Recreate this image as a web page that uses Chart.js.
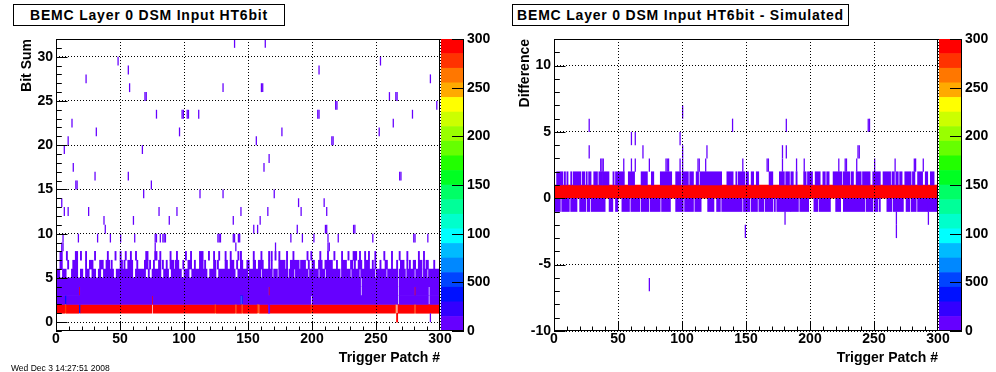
<!DOCTYPE html>
<html>
<head>
<meta charset="utf-8">
<script src="https://cdn.jsdelivr.net/npm/chart.js@4.4.1/dist/chart.umd.min.js"></script>
<style>
    body { margin: 0; background: #fff; width: 996px; height: 372px; overflow: hidden; position: relative; font-family: "Liberation Sans", Arial, sans-serif; }
    canvas { position: absolute; top: 0; }
    .title { position: absolute; top: 4px; height: 22px; box-sizing: border-box; border: 1px solid #000; background: #fff;
             font-weight: bold; font-size: 14px; line-height: 20px; text-align: center; letter-spacing: 0.8px; white-space: nowrap; }
    .stamp { position: absolute; left: 11px; top: 363px; font-size: 8.5px; color: #000; white-space: nowrap; }
</style>
</head>
<body>
<div class="title" style="left:13px;width:272px">BEMC Layer 0 DSM Input HT6bit</div>
<div class="title" style="left:512px;width:337px">BEMC Layer 0 DSM Input HT6bit - Simulated</div>
<canvas id="left" width="498" height="372" style="left:0"></canvas>
<canvas id="right" width="498" height="372" style="left:498px"></canvas>
<canvas id="leftPalette" width="57" height="372" style="left:441px"></canvas>
<canvas id="rightPalette" width="57" height="372" style="left:939px"></canvas>
<div class="stamp">Wed Dec  3 14:27:51 2008</div>
<script>
// colour levels of the z axis (20 contours, 15 counts each)
const palette = ['#6600ff', '#3300ff', '#0011ff', '#0044ff', '#0088ff', '#00bbff', '#00ffff', '#00ffcc', '#00ff99', '#00ff66',
    '#00ff22', '#22ff00', '#66ff00', '#99ff00', '#ccff00', '#ffff00', '#ffaa00', '#ff7700', '#ff3300', '#ff0000'];
const paletteTickValues = [0, 50, 100, 150, 200, 250, 300];
const paletteTickLabels = ['0', '500', '100', '150', '200', '250', '300'];
const xTickValues = [0, 50, 100, 150, 200, 250, 300];
const leftYTickValues = [0, 5, 10, 15, 20, 25, 30];
const rightYTickValues = [-10, -5, 0, 5, 10];

// ---- left: Bit Sum vs trigger patch ----
// runs are [bin, firstPatch, lastPatch]
const leftRedRuns = [[1, 0, 6], [1, 8, 17], [1, 19, 74], [1, 76, 123], [1, 125, 139], [1, 141, 144], [1, 146, 156], [1, 159, 165],
    [1, 167, 198], [1, 200, 264], [1, 267, 279], [1, 281, 299], [2, 75, 75], [3, 18, 18], [3, 166, 166], [3, 280, 280], [0, 266, 266]];
const leftOrangeCells = [[7, 1], [124, 1], [140, 1], [145, 1], [157, 1], [158, 1], [199, 1], [265, 1], [280, 1]];
const leftBlueCells = [[7, 2], [144, 2], [145, 2], [18, 1]];
const leftDenseRuns = [
    [2, 0, 6], [2, 8, 74], [2, 76, 143], [2, 146, 198], [2, 200, 266], [2, 268, 290], [2, 292, 299],
    [3, 0, 17], [3, 19, 165], [3, 167, 237], [3, 239, 266], [3, 268, 279], [3, 281, 290], [3, 292, 299],
    [4, 0, 237], [4, 239, 266], [4, 268, 299], [1, 166, 166]];
const leftRow5 = [[0, 2], [5, 7], [12, 16], [19, 20], [23, 25], [28, 30], [33, 34], [37, 44], [47, 59], [62, 69], [72, 72], [75, 81],
    [84, 87], [90, 97], [100, 103], [106, 117], [120, 124], [127, 139], [142, 149], [151, 159], [161, 168], [170, 172], [174, 180],
    [182, 185], [187, 196], [198, 204], [206, 209], [211, 221], [223, 229], [231, 236], [238, 248], [250, 257], [259, 266],
    [268, 272], [274, 279], [281, 285], [287, 289], [291, 299]];
const leftRow6 = [[3, 4], [9, 9], [13, 16], [23, 23], [26, 28], [34, 36], [39, 41], [43, 43], [50, 51], [53, 53], [56, 59], [63, 63],
    [69, 71], [73, 73], [76, 76], [80, 81], [83, 83], [86, 86], [89, 91], [93, 95], [99, 99], [103, 105], [108, 108], [112, 114],
    [116, 116], [123, 124], [126, 126], [132, 133], [136, 138], [141, 141], [144, 145], [149, 150], [154, 155], [158, 161],
    [166, 166], [168, 168], [174, 178], [180, 180], [183, 189], [191, 194], [197, 197], [200, 201], [205, 207], [210, 215],
    [219, 219], [223, 226], [230, 231], [233, 233], [236, 238], [241, 244], [247, 247], [249, 249], [253, 253], [257, 258],
    [262, 262], [266, 266], [269, 271], [274, 274], [276, 276], [279, 280], [283, 285], [287, 287], [289, 290], [295, 295]];
const leftRow7 = [[3, 4], [8, 8], [15, 16], [19, 19], [23, 23], [30, 30], [40, 40], [46, 46], [50, 50], [54, 54], [58, 58], [62, 62],
    [70, 71], [77, 78], [81, 81], [89, 89], [94, 94], [101, 101], [105, 105], [112, 114], [119, 119], [123, 123], [127, 127],
    [132, 132], [136, 136], [142, 142], [144, 144], [154, 154], [160, 160], [166, 166], [168, 168], [171, 171], [174, 174],
    [180, 180], [185, 185], [196, 196], [199, 199], [206, 206], [212, 212], [217, 217], [223, 223], [228, 228], [232, 234],
    [237, 237], [241, 241], [244, 244], [249, 249], [256, 256], [262, 262], [268, 268], [274, 274], [283, 283], [287, 287]];
// isolated cells [patch, bin]
const leftCells = [[4, 8], [5, 8], [77, 8], [140, 8], [171, 8], [212, 8], [213, 8],
    [5, 9], [17, 9], [32, 9], [42, 9], [50, 9], [61, 9], [77, 9], [78, 9], [81, 9], [83, 9], [84, 9], [85, 9], [126, 9], [127, 9],
    [128, 9], [138, 9], [139, 9], [142, 9], [143, 9], [183, 9], [192, 9], [201, 9], [212, 9], [220, 9], [247, 9], [279, 9],
    [280, 9], [290, 9],
    [38, 10], [154, 10], [157, 10], [188, 10], [210, 10], [211, 10], [232, 10], [233, 10],
    [37, 11], [60, 11], [88, 11], [138, 11], [159, 11],
    [6, 12], [9, 12], [25, 12], [80, 12], [94, 12], [144, 12], [165, 12], [191, 12], [211, 12],
    [4, 13], [189, 13], [209, 13],
    [68, 14], [112, 14], [130, 14], [170, 14],
    [15, 15], [16, 15], [74, 15],
    [30, 16], [56, 16], [268, 16], [269, 16],
    [13, 17], [162, 17], [166, 18], [6, 19], [67, 19],
    [9, 20], [156, 20], [215, 20], [216, 20],
    [31, 21], [96, 21], [176, 21], [252, 21],
    [12, 22], [263, 22],
    [78, 23], [98, 23], [99, 23], [102, 23], [103, 23], [111, 23], [204, 23], [205, 23], [278, 23],
    [218, 24], [219, 24], [297, 24],
    [69, 25], [70, 25], [260, 25], [265, 25], [266, 25],
    [57, 26], [130, 26], [160, 26], [161, 26],
    [23, 27], [292, 27], [56, 28], [205, 28], [48, 29], [253, 29], [139, 31], [163, 31],
    [292, 0]];

// ---- right: difference data - simulated ----
const rightRedRuns = [[0, 0, 299]];
const rightRow1 = [[2, 6], [8, 8], [10, 10], [13, 13], [15, 20], [22, 23], [25, 25], [27, 28], [31, 33], [35, 37], [38, 42], [46, 46],
    [48, 54], [58, 62], [68, 72], [76, 77], [83, 91], [95, 98], [100, 104], [106, 108], [111, 112], [114, 130], [135, 139],
    [142, 142], [144, 148], [150, 151], [154, 155], [158, 159], [168, 170], [176, 179], [181, 183], [185, 186], [189, 189],
    [195, 196], [198, 201], [204, 207], [210, 211], [213, 214], [218, 224], [226, 230], [232, 233], [236, 239], [241, 246],
    [249, 254], [257, 262], [264, 265], [267, 268], [270, 271], [274, 278], [280, 281], [284, 287], [290, 291], [294, 296]];
const rightRowMinus1 = [[0, 4], [6, 11], [13, 17], [20, 24], [26, 27], [29, 39], [43, 45], [48, 49], [53, 58], [60, 66], [68, 73],
    [75, 82], [84, 90], [95, 100], [102, 108], [110, 114], [120, 124], [127, 129], [131, 146], [148, 152], [154, 158], [160, 163],
    [165, 170], [172, 172], [174, 184], [185, 190], [192, 198], [203, 205], [207, 215], [220, 223], [226, 242], [244, 248],
    [250, 252], [254, 254], [260, 263], [265, 272], [275, 277], [279, 282], [284, 291], [292, 299]];
const rightCells = [[36, 2], [37, 2], [38, 2], [54, 2], [60, 2], [63, 2], [74, 2], [87, 2], [88, 2], [89, 2], [98, 2], [100, 2],
    [112, 2], [113, 2], [118, 2], [147, 2], [166, 2], [167, 2], [178, 2], [189, 2], [195, 2], [222, 2], [227, 2], [228, 2],
    [236, 2], [250, 2], [266, 2], [281, 2], [282, 2], [288, 2],
    [27, 3], [69, 3], [100, 3], [119, 3], [178, 3], [181, 3], [237, 3], [238, 3],
    [60, 4], [63, 4], [98, 4],
    [27, 5], [139, 5], [181, 5], [245, 5], [246, 5],
    [100, 6],
    [180, -2], [267, -2], [292, -2], [149, -3], [267, -3], [74, -7]];

Chart.defaults.font.family = '"Liberation Sans", Arial, sans-serif';
Chart.defaults.font.weight = 'bold';
Chart.defaults.color = '#000';

const runBars = runs => runs.map(([bin, a, b]) => ({ y: bin + 0.5, x: [a, b + 1] }));
const rowBars = (bin, ranges) => ranges.map(([a, b]) => ({ y: bin + 0.5, x: [a, b + 1] }));
const cellBars = cells => cells.map(([patch, bin]) => ({ y: bin + 0.5, x: [patch, patch + 1] }));
// inflate closes the anti-aliasing seams between stacked rows of wide runs
const level = (data, lvl, inflate = 0) => ({ data, backgroundColor: palette[lvl], borderWidth: 0, inflateAmount: inflate });
const fixedTicks = values => s => { s.ticks = values.map(value => ({ value })); };

// ROOT style frame with ticks pointing inside
const rootFrame = {
    id: 'rootFrame',
    afterDraw(chart) {
        const { ctx, chartArea: a, scales: { x, y } } = chart;
        ctx.save();
        ctx.strokeStyle = '#000';
        ctx.lineWidth = 1;
        ctx.beginPath();
        for (let v = 0; v <= 300; v += 10) {
            const px = Math.min(Math.round(x.getPixelForValue(v)), Math.round(a.right) - 1) + 0.5;
            const len = v % 50 === 0 ? 9 : 4.5;
            ctx.moveTo(px, a.bottom);
            ctx.lineTo(px, a.bottom - len);
        }
        for (let v = Math.ceil(y.min); v <= y.max; v++) {
            const py = Math.round(y.getPixelForValue(v)) + 0.5;
            const len = v % 5 === 0 ? 11.5 : 5.8;
            ctx.moveTo(a.left, py);
            ctx.lineTo(a.left + len, py);
        }
        ctx.stroke();
        ctx.strokeRect(Math.round(a.left) + 0.5, Math.round(a.top) + 0.5, Math.round(a.right - a.left) - 1, Math.round(a.bottom - a.top) - 1);
        ctx.restore();
    }
};

const renderHist = (elementId, datasets, yMin, yMax, yTicks, yTitle) => {
    new Chart(document.getElementById(elementId), {
        type: 'bar',
        data: { datasets },
        options: {
            indexAxis: 'y',
            responsive: false,
            animation: false,
            layout: { padding: { top: 39, right: 58, left: 0, bottom: 0 } },
            datasets: { bar: { grouped: false, barPercentage: 1, categoryPercentage: 1 } },
            plugins: { legend: { display: false }, tooltip: { enabled: false } },
            scales: {
                x: {
                    type: 'linear', min: 0, max: 300,
                    afterBuildTicks: fixedTicks(xTickValues),
                    afterFit: s => { s.height = 41; s.paddingLeft = 0; s.paddingRight = 0; },
                    ticks: { padding: 0, autoSkip: false, maxRotation: 0, font: { size: 14, weight: 'bold' } },
                    grid: { color: '#000', drawTicks: false, z: 1 },
                    border: { display: false, dash: [1, 2] },
                    title: { display: true, text: 'Trigger Patch #', align: 'end', font: { size: 14, weight: 'bold' }, padding: { bottom: 5 } },
                },
                y: {
                    type: 'linear', min: yMin, max: yMax, offset: false,
                    afterBuildTicks: fixedTicks(yTicks),
                    afterFit: s => { s.width = 56; s.paddingTop = 0; s.paddingBottom = 0; },
                    ticks: { padding: 3, autoSkip: false, font: { size: 14, weight: 'bold' } },
                    grid: { color: '#000', drawTicks: false, offset: false, z: 1 },
                    border: { display: false, dash: [1, 2] },
                    title: { display: true, text: yTitle, align: 'end', font: { size: 14, weight: 'bold' }, padding: { top: 19 } },
                },
            },
        },
        plugins: [rootFrame],
    });
};

const paletteTicks = {
    id: 'paletteTicks',
    afterDraw(chart) {
        const { ctx, chartArea: a, scales: { y } } = chart;
        ctx.save();
        ctx.strokeStyle = '#000';
        ctx.lineWidth = 1;
        ctx.beginPath();
        paletteTickValues.forEach(v => {
            const py = Math.round(y.getPixelForValue(v)) + 0.5;
            ctx.moveTo(a.right, py);
            ctx.lineTo(a.right - 11, py);
        });
        ctx.moveTo(a.left, a.bottom - 0.5);
        ctx.lineTo(a.right, a.bottom - 0.5);
        ctx.stroke();
        ctx.restore();
    }
};

const renderPalette = (elementId) => {
    new Chart(document.getElementById(elementId), {
        type: 'bar',
        data: {
            labels: [''],
            datasets: palette.map(color => ({ data: [15], backgroundColor: color, borderWidth: 0, inflateAmount: 0.3 })),
        },
        options: {
            responsive: false,
            animation: false,
            layout: { padding: { top: 39, bottom: 41, left: 0, right: 0 } },
            datasets: { bar: { barPercentage: 1, categoryPercentage: 1 } },
            plugins: { legend: { display: false }, tooltip: { enabled: false } },
            scales: {
                x: { stacked: true, display: false },
                y: {
                    stacked: true, position: 'right', min: 0, max: 300,
                    afterBuildTicks: fixedTicks(paletteTickValues),
                    afterFit: s => { s.width = 35; s.paddingTop = 0; s.paddingBottom = 0; },
                    ticks: { padding: 4, font: { size: 14, weight: 'bold' },
                        callback: v => paletteTickLabels[paletteTickValues.indexOf(v)] },
                    grid: { display: false, drawTicks: false },
                    border: { display: true, color: '#000', width: 1 },
                },
            },
        },
        plugins: [paletteTicks],
    });
};

renderHist('left', [
    level(cellBars(leftOrangeCells), 18),
    level(cellBars(leftBlueCells), 2),
    level(cellBars(leftCells), 0),
    level([...runBars(leftDenseRuns), ...rowBars(5, leftRow5), ...rowBars(6, leftRow6), ...rowBars(7, leftRow7)], 0, 0.3),
    level(runBars(leftRedRuns), 19, 0.3),
], -1, 32, leftYTickValues, 'Bit Sum');

renderHist('right', [
    level(cellBars(rightCells), 0),
    level([...rowBars(1, rightRow1), ...rowBars(-1, rightRowMinus1)], 0, 0.3),
    level(runBars(rightRedRuns), 19, 0.3),
], -10, 12, rightYTickValues, 'Difference');

renderPalette('leftPalette');
renderPalette('rightPalette');
</script>
</body>
</html>
